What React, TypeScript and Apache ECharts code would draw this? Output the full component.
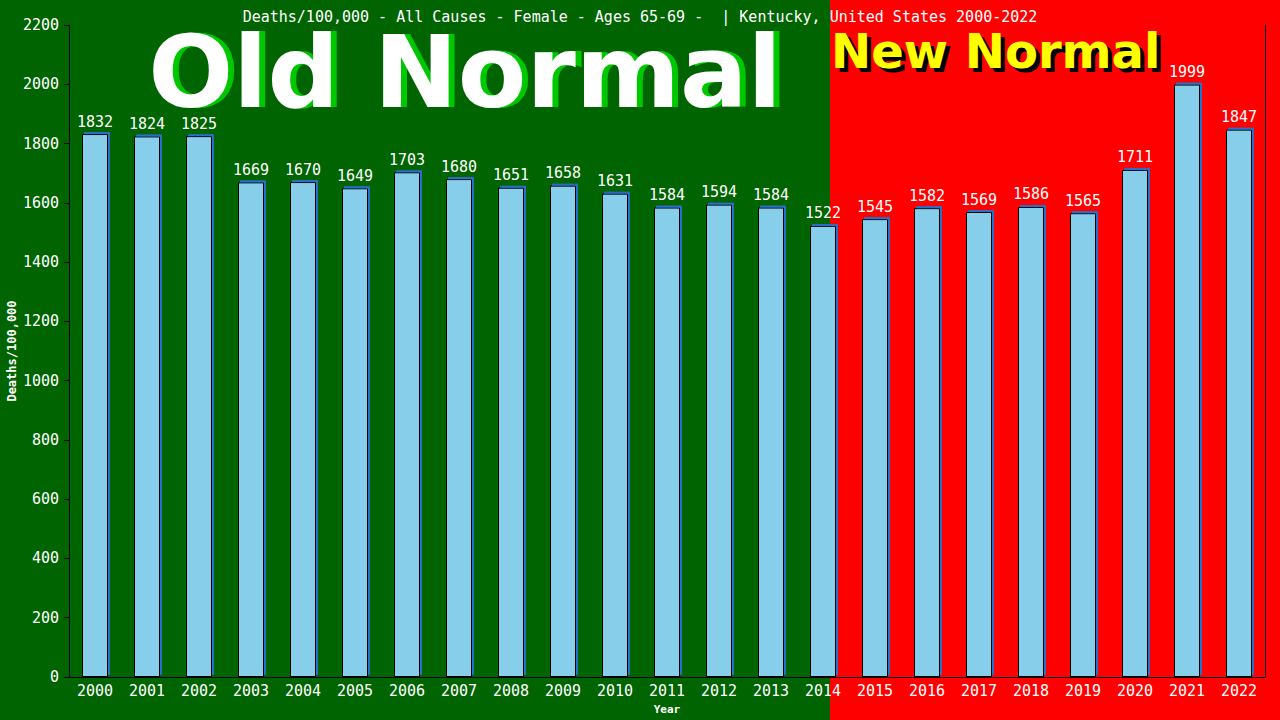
import React, { useEffect, useRef } from "react";
import * as echarts from "echarts";

const years = [
  "2000", "2001", "2002", "2003", "2004", "2005", "2006", "2007", "2008", "2009", "2010", "2011",
  "2012", "2013", "2014", "2015", "2016", "2017", "2018", "2019", "2020", "2021", "2022",
];
const deaths = [
  1832, 1824, 1825, 1669, 1670, 1649, 1703, 1680, 1651, 1658, 1631, 1584,
  1594, 1584, 1522, 1545, 1582, 1569, 1586, 1565, 1711, 1999, 1847,
];
const titleText =
  "Deaths/100,000 - All Causes - Female - Ages 65-69 -  | Kentucky, United States 2000-2022";

const MONO = "'DejaVu Sans Mono', 'Liberation Mono', monospace";
const SANS = "'DejaVu Sans', Verdana, sans-serif";

const App = () => {
  const chartRef = useRef<HTMLDivElement>(null);

  useEffect(() => {
    document.body.style.margin = "0";
    const chart = echarts.init(chartRef.current, null, { renderer: "svg" });

    const yAxisBase = {
      type: "value",
      min: 0,
      max: 2200,
      interval: 200,
      splitLine: { show: false },
    };

    chart.setOption({
      animation: false,
      title: {
        text: titleText,
        left: "center",
        top: 4,
        textStyle: { color: "#fff", fontFamily: MONO, fontSize: 15, fontWeight: "normal" },
      },
      graphic: [
        { type: "rect", z: -10, shape: { x: 0, y: 0, width: 830, height: 720 }, style: { fill: "#006400" } },
        { type: "rect", z: -10, shape: { x: 830, y: 0, width: 450, height: 720 }, style: { fill: "#ff0000" } },
        // shadow copies first, then the text itself
        {
          type: "text", z: -5, x: 471, y: 72,
          style: { text: "Old Normal", fill: "#00c800", font: `bold 100px ${SANS}`, lineHeight: 76, align: "center", verticalAlign: "middle" },
        },
        {
          type: "text", z: -4, x: 465, y: 72,
          style: { text: "Old Normal", fill: "#ffffff", font: `bold 100px ${SANS}`, lineHeight: 76, align: "center", verticalAlign: "middle" },
        },
        {
          type: "text", z: -5, x: 835, y: 55,
          style: { text: "New Normal", fill: "#000000", font: `bold 48px ${SANS}`, lineHeight: 38, align: "left", verticalAlign: "middle" },
        },
        {
          type: "text", z: -4, x: 831, y: 51,
          style: { text: "New Normal", fill: "#ffff00", font: `bold 48px ${SANS}`, lineHeight: 38, align: "left", verticalAlign: "middle" },
        },
      ],
      grid: { left: 69, right: 15, top: 25, bottom: 43, containLabel: false, outerBoundsMode: "none" },
      xAxis: {
        type: "category",
        data: years,
        name: "Year",
        nameLocation: "middle",
        nameGap: 27,
        nameMoveOverlap: false,
        nameTextStyle: { color: "#fff", fontFamily: MONO, fontSize: 11, fontWeight: "bold" },
        axisLine: { lineStyle: { color: "#000", width: 1 } },
        axisTick: { show: false },
        axisLabel: { color: "#fff", fontFamily: MONO, fontSize: 15, margin: 6 },
      },
      yAxis: [
        {
          ...yAxisBase,
          name: "Deaths/100,000",
          nameLocation: "middle",
          nameGap: 51,
          nameMoveOverlap: false,
          nameTextStyle: { color: "#fff", fontFamily: MONO, fontSize: 12, fontWeight: "bold" },
          axisLine: { show: true, lineStyle: { color: "#000", width: 1 } },
          axisTick: { show: true, length: 5, lineStyle: { color: "#000" } },
          axisLabel: { color: "#fff", fontFamily: MONO, fontSize: 15, margin: 10, formatter: (v: number) => String(v) },
        },
        {
          ...yAxisBase,
          position: "right",
          axisLine: { show: true, lineStyle: { color: "#000", width: 1 } },
          axisTick: { show: false },
          axisLabel: { show: false },
        },
      ],
      series: [
        {
          type: "bar",
          data: deaths,
          barWidth: "50%",
          itemStyle: {
            color: "#87ceeb",
            borderColor: "#000",
            borderWidth: 1,
            shadowColor: "#2a6fc9",
            shadowOffsetX: 2,
            shadowOffsetY: -2,
            shadowBlur: 0,
          },
          label: {
            show: true,
            position: "top",
            distance: 5,
            color: "#fff",
            fontFamily: MONO,
            fontSize: 15,
          },
        },
      ],
    });

    return () => chart.dispose();
  }, []);

  return (
    <div
      ref={chartRef}
      style={{ width: "1280px", height: "720px", position: "absolute", left: 0, top: 0 }}
    />
  );
};

export default App;
